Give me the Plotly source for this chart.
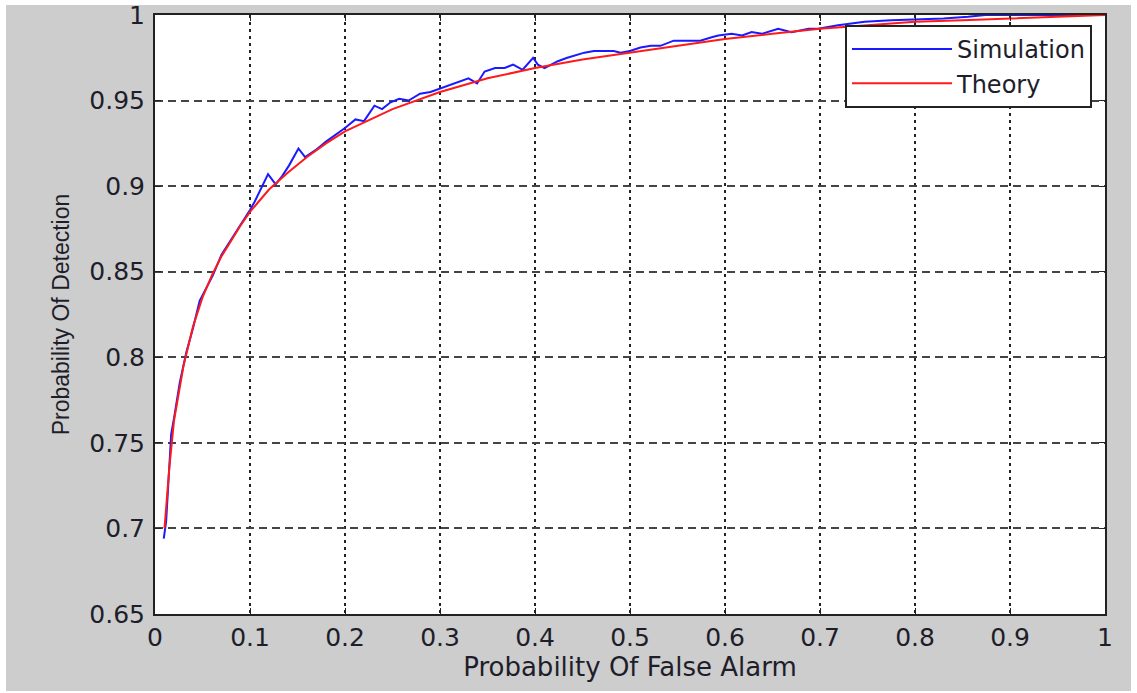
import plotly.graph_objects as go

# ---- data ----
sim_pf = [0.0092, 0.0117, 0.0134, 0.017, 0.0205, 0.026, 0.033, 0.040, 0.047, 0.055,
          0.061, 0.070, 0.077, 0.088, 0.100, 0.105, 0.112, 0.119, 0.127, 0.134,
          0.141, 0.151, 0.158, 0.169, 0.180, 0.190, 0.200, 0.211, 0.220, 0.231,
          0.239, 0.248, 0.257, 0.267, 0.279, 0.290, 0.300, 0.315, 0.330, 0.339,
          0.347, 0.358, 0.368, 0.377, 0.387, 0.398, 0.403, 0.410, 0.424, 0.434,
          0.445, 0.452, 0.462, 0.473, 0.483, 0.490, 0.500, 0.511, 0.522, 0.532,
          0.546, 0.560, 0.574, 0.586, 0.593, 0.607, 0.618, 0.628, 0.639, 0.656,
          0.670, 0.688, 0.698, 0.719, 0.747, 0.775, 0.804, 0.830, 0.856, 0.874,
          0.900, 0.950, 1.000]
sim_pd = [0.694, 0.704, 0.720, 0.755, 0.766, 0.785, 0.803, 0.817, 0.833, 0.842,
          0.848, 0.860, 0.866, 0.876, 0.886, 0.891, 0.899, 0.907, 0.901, 0.906,
          0.912, 0.922, 0.917, 0.921, 0.926, 0.930, 0.934, 0.939, 0.938, 0.947,
          0.945, 0.949, 0.951, 0.950, 0.954, 0.955, 0.957, 0.960, 0.963, 0.960,
          0.967, 0.969, 0.969, 0.971, 0.968, 0.975, 0.971, 0.969, 0.973, 0.975,
          0.977, 0.978, 0.979, 0.979, 0.979, 0.978, 0.979, 0.981, 0.982, 0.982,
          0.985, 0.985, 0.985, 0.987, 0.988, 0.989, 0.988, 0.990, 0.989, 0.992,
          0.990, 0.992, 0.992, 0.994, 0.996, 0.997, 0.9975, 0.998, 0.999, 1.000,
          1.000, 1.000, 1.000]

theory_pf = [0.01, 0.015, 0.02, 0.03, 0.04, 0.05, 0.06, 0.07, 0.08, 0.09, 0.10,
             0.12, 0.14, 0.16, 0.18, 0.20, 0.25, 0.30, 0.35, 0.40, 0.45, 0.50,
             0.55, 0.60, 0.65, 0.70, 0.75, 0.80, 0.85, 0.90, 0.95, 1.00]
theory_pd = [0.700, 0.735, 0.763, 0.795, 0.818, 0.835, 0.848, 0.859, 0.868, 0.877,
             0.885, 0.898, 0.908, 0.917, 0.925, 0.932, 0.945, 0.955, 0.963, 0.969,
             0.974, 0.978, 0.982, 0.986, 0.989, 0.992, 0.994, 0.996, 0.997, 0.998,
             0.999, 1.000]

x_ticks = [0, 0.1, 0.2, 0.3, 0.4, 0.5, 0.6, 0.7, 0.8, 0.9, 1]
x_tick_text = ["0", "0.1", "0.2", "0.3", "0.4", "0.5", "0.6", "0.7", "0.8", "0.9", "1"]
y_ticks = [0.65, 0.7, 0.75, 0.8, 0.85, 0.9, 0.95, 1]
y_tick_text = ["0.65", "0.7", "0.75", "0.8", "0.85", "0.9", "0.95", "1"]

TXT = "#1e1e2a"
fig = go.Figure()
fig.add_trace(go.Scatter(x=sim_pf, y=sim_pd, mode="lines", name="Simulation",
                         line=dict(color="#1a1aff", width=2)))
fig.add_trace(go.Scatter(x=theory_pf, y=theory_pd, mode="lines", name="Theory",
                         line=dict(color="#ff1a1a", width=2)))

W, H = 1137, 693
L, R, T, B = 155, 32, 15, 79
pw, ph = W - L - R, H - T - B


def px2paper_x(px):
    return (px - L) / pw


def px2paper_y(py):
    return (H - B - py) / ph


# gray figure background with thin white rim, white plot area
fig.add_shape(type="rect", xref="paper", yref="paper", layer="below",
              x0=px2paper_x(6), x1=px2paper_x(1131), y0=px2paper_y(691), y1=px2paper_y(5),
              fillcolor="#cdcdcd", line=dict(width=0))
fig.add_shape(type="rect", xref="paper", yref="paper", layer="below",
              x0=0, x1=1, y0=0, y1=1, fillcolor="white", line=dict(width=0))

fig.update_layout(
    width=W, height=H,
    margin=dict(l=L, r=R, t=T, b=B, pad=0, autoexpand=False),
    paper_bgcolor="white",
    plot_bgcolor="white",
    font=dict(family="DejaVu Sans", size=25, color=TXT),
    showlegend=True,
    legend=dict(
        x=px2paper_x(1092), y=px2paper_y(25), xanchor="right", yanchor="top",
        bgcolor="white", bordercolor="#222", borderwidth=2,
        font=dict(family="DejaVu Sans", size=24, color=TXT),
        itemwidth=100, tracegroupgap=0,
    ),
    xaxis=dict(
        range=[0, 1], tickvals=x_ticks, ticktext=x_tick_text,
        showgrid=True, gridcolor="#222", griddash="3px,4px", gridwidth=2,
        showline=True, linecolor="#222", linewidth=2, mirror="ticks",
        ticks="inside", ticklen=6, tickcolor="#222",
        tickfont=dict(family="DejaVu Sans", size=25, color=TXT),
        ticklabelstandoff=0, zeroline=False, automargin=False,
        title=dict(text="Probability Of False Alarm", standoff=2,
                   font=dict(family="DejaVu Sans", size=26, color=TXT)),
    ),
    yaxis=dict(
        range=[0.65, 1], tickvals=y_ticks, ticktext=y_tick_text,
        showgrid=True, gridcolor="#444", griddash="8px,5px", gridwidth=2,
        showline=True, linecolor="#222", linewidth=2, mirror="ticks",
        ticks="inside", ticklen=6, tickcolor="#222",
        tickfont=dict(family="DejaVu Sans", size=25, color=TXT),
        ticklabelstandoff=3, zeroline=False, automargin=False,
        title=dict(text="Probability Of Detection", standoff=13,
                   font=dict(family="Liberation Sans", size=23, color=TXT)),
    ),
)

fig.write_html("out.html", config={"displayModeBar": False},
               post_script="document.body.style.margin='0';document.body.style.overflow='hidden';")
